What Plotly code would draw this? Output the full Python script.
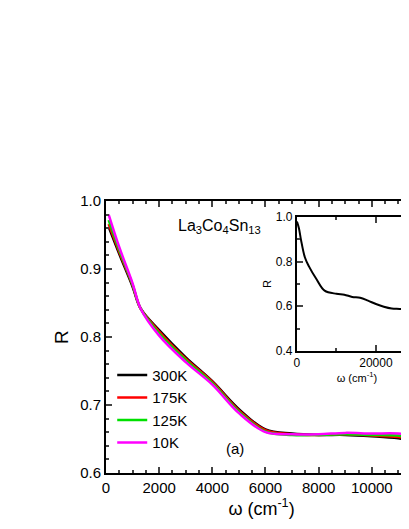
import plotly.graph_objects as go

# main panel: reflectivity vs frequency
omega = [100, 500, 1000, 1300, 2000, 3000, 4000, 5000, 6000, 7000, 8000, 9000, 10000, 11000, 12000, 13000]
r_300k = [0.962, 0.922, 0.874, 0.842, 0.810, 0.770, 0.735, 0.694, 0.664, 0.658, 0.656, 0.656, 0.654, 0.651, 0.645, 0.640]
r_175k = [0.966, 0.925, 0.876, 0.842, 0.808, 0.768, 0.734, 0.692, 0.663, 0.657, 0.656, 0.657, 0.655, 0.653, 0.646, 0.641]
r_125k = [0.972, 0.928, 0.877, 0.842, 0.805, 0.766, 0.732, 0.690, 0.661, 0.656, 0.656, 0.657, 0.656, 0.655, 0.649, 0.644]
r_10k = [0.980, 0.932, 0.879, 0.842, 0.802, 0.763, 0.730, 0.688, 0.660, 0.657, 0.657, 0.659, 0.658, 0.658, 0.651, 0.646]
labels = ["300K", "175K", "125K", "10K"]
colors = ["black", "red", "#00e000", "magenta"]

# inset: wide range 300K spectrum
omega_wide = [0, 500, 1000, 2000, 3000, 5000, 7000, 10000, 12000, 14000, 16000, 18000, 20000, 22000, 24000, 26000, 28000, 31000]
r_wide = [0.98, 0.95, 0.90, 0.82, 0.78, 0.72, 0.67, 0.656, 0.652, 0.642, 0.638, 0.625, 0.61, 0.598, 0.59, 0.588, 0.585, 0.575]

fig = go.Figure()
for y, name, c in zip([r_300k, r_175k, r_125k, r_10k], labels, colors):
    fig.add_trace(go.Scatter(x=omega, y=y, mode="lines", name=name, line=dict(color=c, width=2.5, shape="spline")))
fig.add_trace(go.Scatter(x=omega_wide, y=r_wide, mode="lines", showlegend=False,
                         line=dict(color="black", width=2, shape="spline"), xaxis="x2", yaxis="y2"))

font = "Liberation Sans, Arial, sans-serif"
ax = dict(showline=True, linecolor="black", linewidth=2, mirror="ticks", ticks="inside",
          ticklen=6, tickwidth=1.5, showgrid=False, zeroline=False,
          minor=dict(ticks="inside", ticklen=3, tickwidth=1.5))
fig.update_layout(
    width=409, height=529, plot_bgcolor="white", paper_bgcolor="white",
    margin=dict(l=98, r=0, t=193, b=64),
    font=dict(family=font, size=15, color="black"),
    xaxis=dict(ax, range=[0, 11700], dtick=2000, tickformat="d",
               title=dict(text="ω (cm<sup>-1</sup>)", standoff=4)),
    yaxis=dict(ax, range=[0.6, 1.0], dtick=0.1, tickformat=".1f", mirror=False,
               title=dict(text="R", font=dict(size=19), standoff=6)),
    xaxis2=dict(ax, domain=[0.614, 1.0], anchor="y2", range=[0, 30400], dtick=20000, tickformat="d",
                tickfont=dict(size=12), title=dict(text="ω (cm<sup>-1</sup>)", font=dict(size=11), standoff=0),
                minor=dict(ticks="inside", ticklen=3, dtick=10000)),
    yaxis2=dict(ax, domain=[0.449, 0.941], anchor="x2", range=[0.4, 1.0], dtick=0.2, tickformat=".1f",
                mirror=False, tickfont=dict(size=12), title=dict(text="R", font=dict(size=11), standoff=2),
                minor=dict(ticks="inside", ticklen=3, dtick=0.1)),
    legend=dict(x=0.02, y=0.42, xanchor="left", yanchor="top", bgcolor="rgba(0,0,0,0)",
                font=dict(size=15), tracegroupgap=0, itemwidth=30),
    annotations=[
        dict(text="La<sub>3</sub>Co<sub>4</sub>Sn<sub>13</sub>", x=0.225, y=0.95, xref="paper", yref="paper",
             xanchor="left", yanchor="top", showarrow=False, font=dict(size=16)),
        dict(text="(a)", x=0.415, y=0.05, xref="paper", yref="paper",
             xanchor="center", yanchor="bottom", showarrow=False, font=dict(size=15)),
    ],
)
fig.write_html("out.html")
